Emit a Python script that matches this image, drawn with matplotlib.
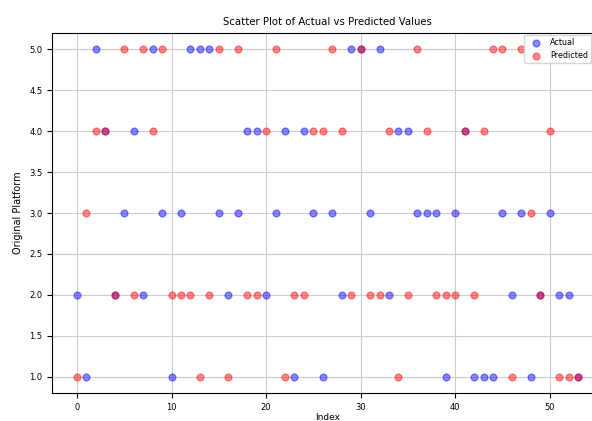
import matplotlib
matplotlib.use("Agg")
import matplotlib.pyplot as plt
import numpy as np

index = list(range(54))
actual = [2, 1, 5, 4, 2, 3, 4, 2, 5, 3,
          1, 3, 5, 5, 5, 3, 2, 3, 4, 4,
          2, 3, 4, 1, 4, 3, 1, 3, 2, 5,
          5, 3, 5, 2, 4, 4, 3, 3, 3, 1,
          3, 4, 1, 1, 1, 3, 2, 3, 1, 2,
          3, 2, 2, 1]
predicted = [1, 3, 4, 4, 2, 5, 2, 5, 4, 5,
             2, 2, 2, 1, 2, 5, 1, 5, 2, 2,
             4, 5, 1, 2, 2, 4, 4, 5, 4, 2,
             5, 2, 2, 4, 1, 2, 5, 4, 2, 2,
             2, 4, 2, 4, 5, 5, 1, 5, 3, 2,
             4, 1, 1, 1]

plt.rcParams['font.family'] = ['DejaVu Sans']
fig = plt.figure(figsize=(5.92, 4.21), dpi=100)
ax = fig.add_axes([0.0878, 0.0665, 0.931, 0.855])

ax.scatter(index, actual, color='blue', alpha=0.45, s=24, label='Actual', zorder=3)
ax.scatter(index, predicted, color='red', alpha=0.45, s=24, label='Predicted', zorder=3)

ax.set_title('Scatter Plot of Actual vs Predicted Values', fontsize=7.3, pad=6)
ax.set_xlabel('Index', fontsize=6.5, labelpad=1)
ax.set_ylabel('Original Platform', fontsize=7)
ax.tick_params(labelsize=6)
ax.set_yticks(np.arange(1.0, 5.01, 0.5))
ax.grid(True, color='#cccccc', linewidth=0.8)
ax.legend(loc='upper right', fontsize=5.8, bbox_to_anchor=(0.999, 0.918),
          bbox_transform=fig.transFigure, borderaxespad=0.0)

fig.savefig('out.png', dpi=100)
